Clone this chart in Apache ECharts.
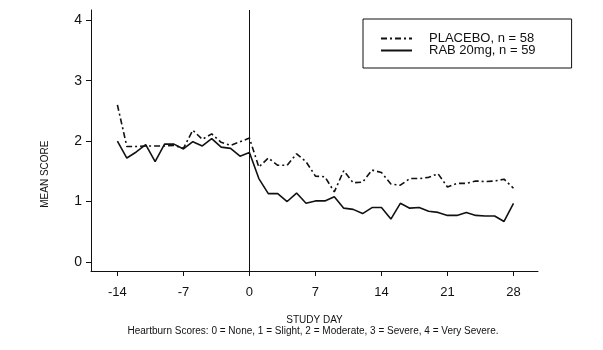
<!DOCTYPE html>
<html>
<head>
<meta charset="utf-8">
<script src="https://cdn.jsdelivr.net/npm/echarts@6/dist/echarts.min.js"></script>
<style>
  html, body { margin: 0; padding: 0; background: #fff; }
  #chart { width: 603px; height: 350px; }
</style>
</head>
<body>
<div id="chart"></div>
<script>
// Study days (screening -14..-1, treatment 0..28)
const studyDays = [-14, -13, -12, -11, -10, -9, -8, -7, -6, -5, -4, -3, -2, -1, 0,
  1, 2, 3, 4, 5, 6, 7, 8, 9, 10, 11, 12, 13, 14, 15, 16, 17, 18, 19, 20,
  21, 22, 23, 24, 25, 26, 27, 28];

// Mean daily heartburn score per arm
const placeboScores = [2.60, 1.91, 1.91, 1.92, 1.92, 1.92, 1.93, 1.88, 2.18, 2.03, 2.12, 1.98, 1.93, 1.99, 2.05,
  1.57, 1.72, 1.60, 1.60, 1.79, 1.66, 1.42, 1.41, 1.16, 1.51, 1.31, 1.32, 1.52, 1.48, 1.29, 1.27, 1.38, 1.38, 1.40, 1.46,
  1.24, 1.30, 1.30, 1.34, 1.33, 1.34, 1.37, 1.22];
const rabScores = [2.00, 1.72, 1.82, 1.94, 1.66, 1.95, 1.95, 1.87, 1.99, 1.92, 2.04, 1.90, 1.88, 1.75, 1.81,
  1.38, 1.13, 1.13, 1.00, 1.14, 0.97, 1.01, 1.01, 1.08, 0.89, 0.87, 0.80, 0.90, 0.90, 0.71, 0.97, 0.89, 0.90, 0.84, 0.82,
  0.77, 0.77, 0.82, 0.77, 0.76, 0.76, 0.67, 0.97];

// Axis ticks
const xTicks = [-14, -7, 0, 7, 14, 21, 28];
const yTicks = [0, 1, 2, 3, 4];

const seriesNames = ['PLACEBO, n = 58', 'RAB 20mg, n = 59'];
const xTitle = 'STUDY DAY';
const yTitle = 'MEAN SCORE';
const footnote = 'Heartburn Scores: 0 = None, 1 = Slight, 2 = Moderate, 3 = Severe, 4 = Very Severe.';

const FONT = '"Liberation Sans", Arial, sans-serif';
const INK = '#111';

const pair = (vals) => studyDays.map((d, i) => [d, vals[i]]);

const chart = echarts.init(document.getElementById('chart'), null, { renderer: 'canvas' });

chart.setOption({
  backgroundColor: '#fff',
  animation: false,
  grid: { left: 91, right: 65, top: 10, bottom: 79, containLabel: false },
  xAxis: {
    type: 'value',
    min: -16.8,
    max: 30.6,
    splitLine: { show: false },
    axisLine: { show: true, onZero: false, lineStyle: { color: INK, width: 1 } },
    axisTick: { show: true, length: 5, customValues: xTicks, lineStyle: { color: INK } },
    axisLabel: { customValues: xTicks, margin: 15, color: INK, fontFamily: FONT, fontSize: 13 }
  },
  yAxis: {
    type: 'value',
    min: -0.15,
    max: 4.17,
    splitLine: { show: false },
    axisLine: { show: true, onZero: false, lineStyle: { color: INK, width: 1 } },
    axisTick: { show: true, length: 5, customValues: yTicks, lineStyle: { color: INK } },
    axisLabel: { customValues: yTicks, margin: 9, color: INK, fontFamily: FONT, fontSize: 14 }
  },
  legend: {
    orient: 'vertical',
    left: 363,
    top: 19,
    padding: [13, 36, 11, 17],
    borderColor: INK,
    borderWidth: 1,
    itemWidth: 31,
    itemHeight: 10,
    itemGap: -1,
    itemStyle: { opacity: 0 },
    data: seriesNames,
    textStyle: { color: INK, fontFamily: FONT, fontSize: 13, lineHeight: 11, padding: [0, 0, 0, 12] }
  },
  series: [
    {
      name: seriesNames[0],
      type: 'line',
      data: pair(placeboScores),
      showSymbol: false,
      symbol: 'none',
      color: INK,
      lineStyle: { color: INK, width: 1.6, type: [6, 3, 2, 3] },
      z: 3
    },
    {
      name: seriesNames[1],
      type: 'line',
      data: pair(rabScores),
      showSymbol: false,
      symbol: 'none',
      color: INK,
      lineStyle: { color: INK, width: 1.6, type: 'solid' },
      z: 3,
      markLine: {
        silent: true,
        symbol: 'none',
        label: { show: false },
        lineStyle: { color: INK, width: 1, type: 'solid' },
        data: [{ xAxis: 0 }]
      }
    }
  ],
  graphic: [
    {
      type: 'text', left: 40, top: 140.5, rotation: Math.PI / 2,
      style: { text: yTitle, fill: INK, font: '10px ' + FONT, textAlign: 'center', textVerticalAlign: 'middle' }
    },
    {
      type: 'text', x: 314.5, y: 320,
      style: { text: xTitle, fill: INK, font: '10px ' + FONT, textAlign: 'center', textVerticalAlign: 'middle' }
    },
    {
      type: 'text', x: 313, y: 331.5,
      style: { text: footnote, fill: INK, font: '10px ' + FONT, textAlign: 'center', textVerticalAlign: 'middle' }
    }
  ]
});
</script>
</body>
</html>
